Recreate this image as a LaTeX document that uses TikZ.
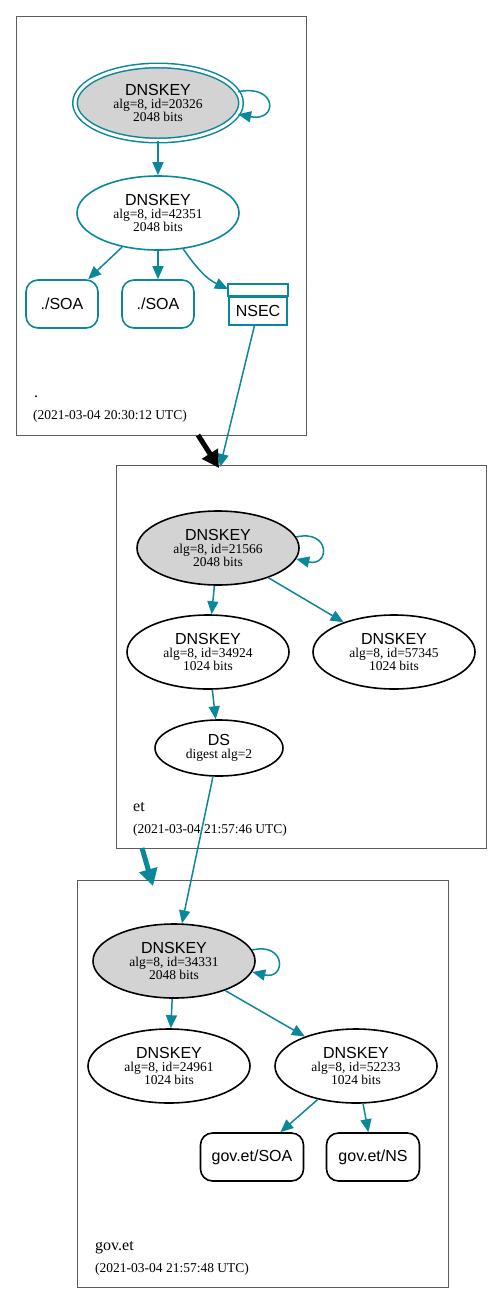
\documentclass[tikz,border=0pt]{standalone}
\usepackage{fontspec}
\setmainfont{Liberation Serif}
\setsansfont{Liberation Sans}
\usetikzlibrary{shapes.geometric,arrows.meta}
\definecolor{secure}{HTML}{0A879A}
\definecolor{keyfill}{HTML}{D3D3D3}
\definecolor{zoneline}{HTML}{5C5C5C}
\newcommand{\keytext}[2]{{\sffamily\fontsize{16}{13}\selectfont DNSKEY}\\alg=8, id=#1\\#2 bits}

\begin{document}
\begin{tikzpicture}[x = 1pt, y = 1pt]
			\useasboundingbox (0, 0) rectangle (503, -1304);

			% Styles for keys, record sets and the arrows
			\tikzset{key/.style = {ellipse, draw, line width = 1.6pt, minimum width = 162pt, minimum height = 74pt, inner sep = 0pt, align = center, font = \fontsize{13.5}{13}\selectfont}}
			\tikzset{ksk/.style = {key, fill = keyfill}}
			\tikzset{rrset/.style = {rectangle, rounded corners = 12pt, draw, line width = 1.6pt, minimum width = 72pt, minimum height = 48pt, font = \sffamily\fontsize{16}{16}\selectfont}}
			\tikzset{nsecbox/.style = {rectangle, draw = secure, line width = 2pt, minimum width = 58pt, minimum height = 28pt, inner sep = 0pt, font = \sffamily\fontsize{16}{16}\selectfont}}
			\tikzset{conn/.style = {draw = secure, line width = 1.5pt, -{Triangle[length = 13pt, width = 11pt]}}}
			\tikzset{deleg/.style = {line width = 5pt, -{Triangle[length = 17pt, width = 18pt]}}}
			\tikzset{zonename/.style = {anchor = base west, inner sep = 0pt, font = \fontsize{16}{16}\selectfont}}
			\tikzset{zonetime/.style = {anchor = base west, inner sep = 0pt, font = \fontsize{13.5}{13.5}\selectfont}}

			% Draw the zone boxes
			\draw[zoneline, line width = 0.8pt] (16, -16) rectangle (306, -435);
			\draw[zoneline, line width = 0.8pt] (116, -465) rectangle (486, -848);
			\draw[zoneline, line width = 0.8pt] (77, -880) rectangle (448, -1287);

			% Root zone
			\node[ksk, draw = secure, line width = 1.5pt, double = white, double distance = 3pt, minimum width = 166pt, minimum height = 75pt] (rootksk) at (158, -103) {\keytext{20326}{2048}};
			\node[key, draw = secure] (rootzsk) at (158, -213) {\keytext{42351}{2048}};
			\node[rrset, draw = secure] (rootsoa) at (62, -304) {./SOA};
			\node[rrset, draw = secure] (rootsoab) at (158, -304) {./SOA};
			\node[nsecbox] (rootnsec) at (258, -311) {NSEC};
			\draw[secure, line width = 2pt] (rootnsec.north west) rectangle ([yshift = 12pt]rootnsec.north east);
			\node[zonename] (rootname) at (34, -397) {.};
			\node[zonetime] (roottime) at (33, -419) {(2021-03-04 20:30:12 UTC)};

			% et zone
			\node[ksk] (etksk) at (218, -548) {\keytext{21566}{2048}};
			\node[key] (etzsk) at (208, -652) {\keytext{34924}{1024}};
			\node[key] (etzskb) at (394, -652) {\keytext{57345}{1024}};
			\node[key, minimum width = 128pt, minimum height = 56pt] (etds) at (219, -748) {{\sffamily\fontsize{16}{13}\selectfont DS}\\digest alg=2};
			\node[zonename] (etname) at (133, -811) {et};
			\node[zonetime] (ettime) at (133, -833) {(2021-03-04 21:57:46 UTC)};

			% gov.et zone
			\node[ksk] (govksk) at (174, -961) {\keytext{34331}{2048}};
			\node[key] (govzsk) at (169, -1066) {\keytext{24961}{1024}};
			\node[key] (govzskb) at (356, -1066) {\keytext{52233}{1024}};
			\node[rrset, minimum width = 103pt] (govsoa) at (252, -1157) {gov.et/SOA};
			\node[rrset, minimum width = 93pt] (govns) at (373, -1157) {gov.et/NS};
			\node[zonename] (govname) at (95, -1250) {gov.et};
			\node[zonetime] (govtime) at (95, -1272) {(2021-03-04 21:57:48 UTC)};

			% Free ends at the zone boxes
			\coordinate (nsectop) at ([yshift = 7pt]rootnsec.north west);
			\coordinate (rootexit) at (198, -435);
			\coordinate (etentry) at (219, -468);
			\coordinate (nsecentry) at (220, -467);
			\coordinate (etexit) at (142, -848);
			\coordinate (goventry) at (153, -886);

			% Draw the signing arrows
			\draw[conn] (rootksk.8) .. controls +(40, 8) and +(40, -8) .. (rootksk.-8);
			\draw[conn] (rootksk) -- (rootzsk);
			\draw[conn] (rootzsk) -- (rootsoa);
			\draw[conn] (rootzsk) -- (rootsoab);
			\draw[conn] (rootzsk) to[out = -55, in = 155] (nsectop);
			\draw[conn] (rootnsec) -- (nsecentry);

			\draw[conn] (etksk.8) .. controls +(34, 8) and +(34, -8) .. (etksk.-8);
			\draw[conn] (etksk) -- (etzsk);
			\draw[conn] (etksk) -- (etzskb);
			\draw[conn] (etzsk) -- (etds);
			\draw[conn] (etds) -- (govksk);

			\draw[conn] (govksk.8) .. controls +(34, 8) and +(34, -8) .. (govksk.-8);
			\draw[conn] (govksk) -- (govzsk);
			\draw[conn] (govksk) -- (govzskb);
			\draw[conn] (govzskb) -- (govsoa);
			\draw[conn] (govzskb) -- (govns);

			% Draw the delegation arrows
			\draw[deleg, black] (rootexit) -- (etentry);
			\draw[deleg, secure] (etexit) -- (goventry);

		\end{tikzpicture}
\end{document}
